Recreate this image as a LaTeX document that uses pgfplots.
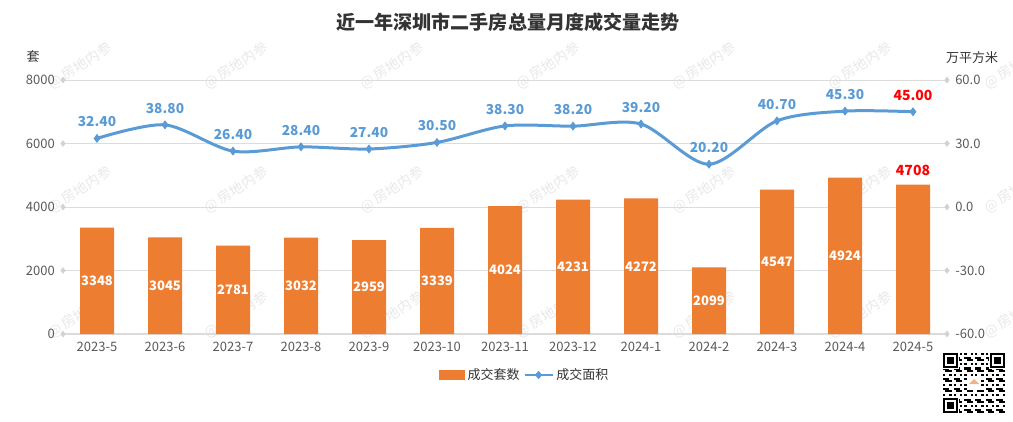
\documentclass[border=0pt]{standalone}
\usepackage{fontspec}
\setmainfont{Noto Sans CJK SC}
\usepackage{pgfplots}
\usepackage{pgfplotstable}
\pgfplotsset{compat=1.18}
\definecolor{barc}{HTML}{ED7D31}
\definecolor{linec}{HTML}{5B9BD5}
\definecolor{gridc}{HTML}{DCDCDC}
\definecolor{tickc}{HTML}{595959}
\definecolor{wm}{HTML}{E8E8E8}
\definecolor{titlec}{HTML}{333333}

\pgfplotstableread{
x units area
0 3348 32.4
1 3045 38.8
2 2781 26.4
3 3032 28.4
4 2959 27.4
5 3339 30.5
6 4024 38.3
7 4231 38.2
8 4272 39.2
9 2099 20.2
10 4547 40.7
11 4924 45.3
12 4708 45.0
}\data

\pgfplotsset{
  /pgf/number format/1000 sep={},
  /pgf/number format/assume math mode=true,
  base/.style={
    at={(47.25pt,-250.5pt)}, anchor=south west,
    scale only axis, width=663pt, height=190.5pt,
    xmin=-0.5, xmax=12.5, clip=false,
    major tick length=0pt,
    tick label style={font=\fontsize{9.75pt}{11pt}\selectfont, text=tickc},
  }
}

\begin{document}
\begin{tikzpicture}
\begin{scope}[x=0.75pt,y=-0.75pt]
\path[use as bounding box] (0,0) rectangle (1013,421);
\foreach \cx in {80,236,392,548,704,860,1016}{
  \foreach \cy in {66,190,315}{
    \node[rotate=33,text=wm,font=\fontsize{10.5pt}{12pt}\selectfont] at (\cx,\cy) {@ 房地内参};
  }
}
\node[font=\fontsize{14.3pt}{16pt}\selectfont\bfseries, text=titlec] at (508,22.5) {近一年深圳市二手房总量月度成交量走势};
\node[font=\fontsize{9.75pt}{11pt}\selectfont, text=titlec] at (33,57) {套};
\node[font=\fontsize{9.75pt}{11pt}\selectfont, text=titlec] at (972,58) {万平方米};
% QR code decoration
\fill[white] (943,353) rectangle (1005,413);
\foreach \i in {0,...,28}{
  \foreach \j in {0,...,28}{
    \pgfmathtruncatemacro{\v}{mod(\i*7+\j*13+\i*\j*3+\i*\i,5)}
    \ifnum\v<2
      \fill[black] ({943+\i*62/29},{353+\j*60/29}) rectangle ++(2.14,2.07);
    \fi
  }
}
\foreach \px/\py in {943/353,990/353,943/398}{
  \fill[white] (\px-1,\py-1) rectangle ++(17,17);
  \fill[black] (\px,\py) rectangle ++(15,15);
  \fill[white] (\px+2,\py+2) rectangle ++(11,11);
  \fill[black] (\px+4,\py+4) rectangle ++(7,7);
}
\fill[white] (967,376) rectangle (981,390);
\fill[barc!60] (969,384) -- (974,379) -- (979,384) -- cycle;
\end{scope}

\begin{axis}[base,
  ymin=0, ymax=8000,
  axis x line*=bottom, axis y line*=left,
  y axis line style={draw=none},
  x axis line style={gridc, line width=0.9pt},
  xtick={0,...,12},
  xticklabels={2023-5,2023-6,2023-7,2023-8,2023-9,2023-10,2023-11,2023-12,2024-1,2024-2,2024-3,2024-4,2024-5},
  xticklabel style={anchor=north, inner sep=0pt, yshift=-6pt},
  ytick={0,2000,4000,6000,8000},
  yticklabel style={anchor=east, inner sep=0pt, xshift=-6pt},
  ymajorgrids, grid style={gridc, line width=0.75pt},
  legend style={at={(0.5226,-0.1614)}, anchor=center, draw=none, fill=none,
    legend columns=2, font=\fontsize{9.75pt}{11pt}\selectfont, text=titlec,
    inner sep=0pt, /tikz/every even column/.append style={column sep=1pt}},
  legend cell align=left,
]
\addplot[ybar, bar width=25.5pt, fill=barc, draw=none,
  legend image code/.code={\fill[barc] (0pt,-3.6pt) rectangle (19.5pt,3.6pt);}]
  table[x=x,y=units]{\data};
\addlegendentry{成交套数}
\addlegendimage{legend image code/.code={
  \draw[linec,line width=1.6pt] (0pt,0pt) -- (21pt,0pt);
  \fill[linec] (10.5pt,2.8pt) -- (13pt,0pt) -- (10.5pt,-2.8pt) -- (8pt,0pt) -- cycle;}}
\addlegendentry{成交面积}
\addplot[forget plot, only marks, mark=none, draw=none,
  restrict x to domain=0:11,
  point meta=\thisrow{units},
  nodes near coords={\pgfmathprintnumber[fixed,precision=0]{\pgfplotspointmeta}},
  every node near coord/.style={anchor=center, text=white,
    font=\fontsize{9.75pt}{11pt}\selectfont\bfseries}]
  table[x=x, y expr=\thisrow{units}/2]{\data};
\addplot[forget plot, only marks, mark=none, draw=none,
  restrict x to domain=12:12,
  point meta=\thisrow{units},
  nodes near coords={\pgfmathprintnumber[fixed,precision=0]{\pgfplotspointmeta}},
  every node near coord/.style={anchor=south, yshift=3pt, text=red,
    font=\fontsize{10.5pt}{12pt}\selectfont\bfseries}]
  table[x=x, y=units]{\data};
\addplot[forget plot, only marks, mark=diamond*, mark size=2.2pt, color=gray!35]
  coordinates {(-0.5,0) (-0.5,2000) (-0.5,4000) (-0.5,6000) (-0.5,8000)};
\end{axis}

\begin{axis}[base,
  ymin=-60, ymax=60,
  axis x line=none, axis y line*=right,
  y axis line style={draw=none},
  ytick={-60,-30,0,30,60},
  yticklabel style={anchor=west, inner sep=0pt, xshift=6pt,
    /pgf/number format/.cd, fixed, fixed zerofill, precision=1},
]
\addplot[forget plot, only marks, mark=diamond*, mark size=2.2pt, color=gray!35]
  coordinates {(12.5,-60) (12.5,-30) (12.5,0) (12.5,30) (12.5,60)};
\addplot[linec, line width=2.25pt, smooth, tension=0.5, mark=diamond*, mark size=3pt,
  mark options={fill=linec, draw=linec, line width=0.5pt}]
  table[x=x,y=area]{\data};
\addplot[only marks, mark=none, draw=none,
  restrict x to domain=0:11,
  point meta=\thisrow{area},
  nodes near coords={\pgfmathprintnumber[fixed,fixed zerofill,precision=2]{\pgfplotspointmeta}},
  every node near coord/.style={anchor=south, yshift=5pt, text=linec,
    font=\fontsize{10.3pt}{12pt}\selectfont\bfseries}]
  table[x=x, y=area]{\data};
\addplot[only marks, mark=none, draw=none,
  restrict x to domain=12:12,
  point meta=\thisrow{area},
  nodes near coords={\pgfmathprintnumber[fixed,fixed zerofill,precision=2]{\pgfplotspointmeta}},
  every node near coord/.style={anchor=south, yshift=5pt, text=red,
    font=\fontsize{10.5pt}{12pt}\selectfont\bfseries}]
  table[x=x, y=area]{\data};
\end{axis}
\end{tikzpicture}
\end{document}
